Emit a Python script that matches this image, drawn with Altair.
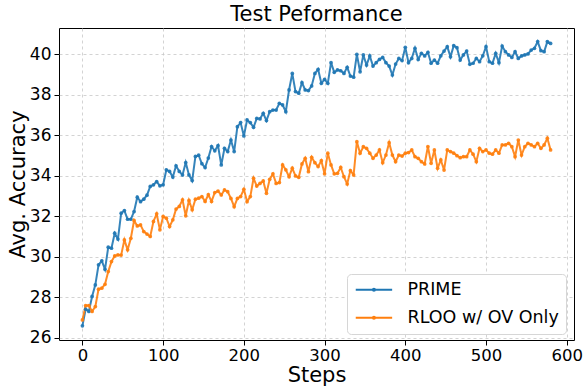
import altair as alt
import pandas as pd

steps = list(range(0, 581, 4))

prime = [
    26.60, 27.42, 27.31, 28.05, 28.62, 29.61, 29.81, 29.39, 30.48, 30.43,
    31.17, 30.88, 32.16, 32.29, 31.86, 31.86, 32.24, 32.95, 32.73, 32.85,
    33.05, 33.48, 33.56, 33.72, 33.51, 33.56, 34.30, 34.22, 33.94, 34.50,
    34.22, 34.05, 34.66, 34.05, 33.77, 34.96, 35.02, 34.60, 34.41, 34.88,
    35.45, 35.24, 35.50, 34.54, 35.36, 35.20, 35.77, 35.20, 36.43, 36.63,
    35.97, 36.76, 36.63, 36.40, 36.84, 36.81, 37.09, 36.73, 37.17, 37.25,
    37.25, 37.58, 37.50, 37.17, 38.24, 39.06, 38.16, 38.08, 38.60, 38.24,
    38.21, 38.44, 39.06, 39.26, 38.57, 38.77, 38.57, 39.59, 39.11, 39.23,
    39.19, 39.06, 39.36, 38.93, 38.87, 40.00, 39.14, 39.97, 39.47, 39.92,
    39.42, 39.59, 39.75, 39.85, 39.59, 39.42, 38.98, 39.52, 39.80, 39.69,
    40.35, 39.59, 39.80, 40.30, 39.75, 40.05, 39.92, 40.10, 39.56, 39.72,
    39.56, 39.93, 40.16, 40.38, 39.88, 40.43, 40.33, 39.72, 39.97, 40.16,
    39.51, 39.56, 39.80, 39.64, 39.93, 40.38, 39.64, 39.56, 40.05, 39.59,
    40.41, 40.13, 39.97, 39.85, 40.13, 39.80, 39.92, 39.97, 40.02, 40.21,
    40.30, 40.63, 40.18, 40.13, 40.63, 40.54,
]

rloo = [
    26.89, 27.60, 27.60, 27.31, 27.55, 28.41, 28.46, 28.65, 29.28, 29.77,
    30.05, 30.10, 30.09, 30.84, 30.35, 30.92, 31.80, 31.53, 31.58, 31.25,
    31.13, 31.01, 31.75, 32.13, 31.34, 32.00, 31.91, 31.50, 31.83, 32.36,
    32.49, 32.82, 32.03, 32.79, 32.33, 32.85, 32.90, 32.98, 32.74, 33.07,
    32.74, 33.18, 33.25, 33.06, 33.31, 33.22, 32.89, 32.48, 32.89, 32.98,
    33.34, 32.73, 32.98, 33.88, 33.50, 33.63, 33.75, 33.14, 33.83, 34.10,
    33.63, 33.67, 34.54, 34.30, 33.96, 34.38, 34.00, 33.93, 34.59, 34.87,
    34.21, 34.92, 34.65, 34.46, 34.75, 34.10, 35.12, 34.54, 34.10, 34.13,
    34.42, 33.96, 33.60, 34.26, 34.05, 35.69, 35.12, 35.44, 35.36, 35.12,
    34.87, 35.03, 35.28, 34.65, 35.03, 35.64, 35.03, 34.70, 35.03, 34.98,
    35.12, 35.15, 35.28, 34.95, 34.87, 34.70, 34.59, 35.45, 34.62, 35.28,
    34.38, 34.79, 34.29, 35.28, 35.20, 35.12, 35.00, 34.90, 34.95, 34.95,
    35.28, 35.07, 34.70, 35.36, 35.20, 35.28, 35.12, 35.07, 35.28, 35.12,
    35.53, 35.53, 35.61, 35.44, 34.95, 35.77, 35.03, 35.44, 35.61, 35.53,
    35.44, 35.61, 35.36, 35.53, 35.86, 35.28,
]

series_names = ["PRIME", "RLOO w/ OV Only"]
series_colors = ["#1f77b4", "#ff7f0e"]
x_ticks = [0, 100, 200, 300, 400, 500, 600]
y_ticks = [26, 28, 30, 32, 34, 36, 38, 40]

df = pd.concat([
    pd.DataFrame({"step": steps, "acc": prime, "method": series_names[0]}),
    pd.DataFrame({"step": steps, "acc": rloo, "method": series_names[1]}),
])

FONT = "DejaVu Sans"

x = alt.X("step:Q", title="Steps",
          scale=alt.Scale(domain=[-29, 609], nice=False, zero=False),
          axis=alt.Axis(values=x_ticks, format="d"))
y = alt.Y("acc:Q", title="Avg. Accuracy",
          scale=alt.Scale(domain=[25.9, 41.3], nice=False, zero=False),
          axis=alt.Axis(values=y_ticks, format="d"))

# legend symbol: a line segment with a dot in its middle (unit = 7 px)
legend_symbol = ("M-1,0L4.2,0M1.75,0A0.15,0.15,0,1,1,1.45,0"
                 "A0.15,0.15,0,1,1,1.75,0")

color = alt.Color("method:N",
                  scale=alt.Scale(domain=series_names, range=series_colors),
                  legend=alt.Legend(
                      title=None, orient="none", legendX=288, legendY=246,
                      strokeColor="#d6d6d6", fillColor="white", cornerRadius=4,
                      padding=7, labelFontSize=17.5, labelFont=FONT, labelColor="black",
                      symbolType=legend_symbol, symbolSize=196,
                      symbolStrokeWidth=2, rowPadding=9,
                      labelOffset=36, symbolOpacity=1))

base = alt.Chart(df)
lines = base.mark_line(strokeWidth=2, opacity=0.9).encode(
    x=x, y=y, color=color, detail="method:N", order="step:Q")
points = base.mark_point(filled=True, size=14, opacity=0.9).encode(
    x=x, y=y, color=alt.Color("method:N",
                              scale=alt.Scale(domain=series_names, range=series_colors),
                              legend=None))

chart = alt.layer(lines, points).properties(
    width=515, height=312,
    title=alt.Title("Test Peformance", fontSize=21, font=FONT, fontWeight="normal",
                    color="black", offset=3),
    autosize=alt.AutoSizeParams(type="none"),
    padding={"left": 59, "top": 28, "right": 9, "bottom": 46},
).configure_view(
    stroke="black", strokeWidth=1
).configure_axis(
    domain=False, tickColor="black", tickSize=5, tickWidth=1,
    labelFont=FONT, labelColor="black",
    titleFontSize=21, titleFont=FONT, titleFontWeight="normal", titleColor="black",
    grid=True, gridColor="#c8c8c8", gridDash=[3, 3], gridWidth=0.8,
).configure_axisY(titlePadding=1, labelPadding=3, labelFontSize=17
).configure_axisX(titlePadding=1, labelPadding=2, labelFontSize=16.5)

chart.save("out.html", embed_options={"renderer": "svg", "actions": False})
